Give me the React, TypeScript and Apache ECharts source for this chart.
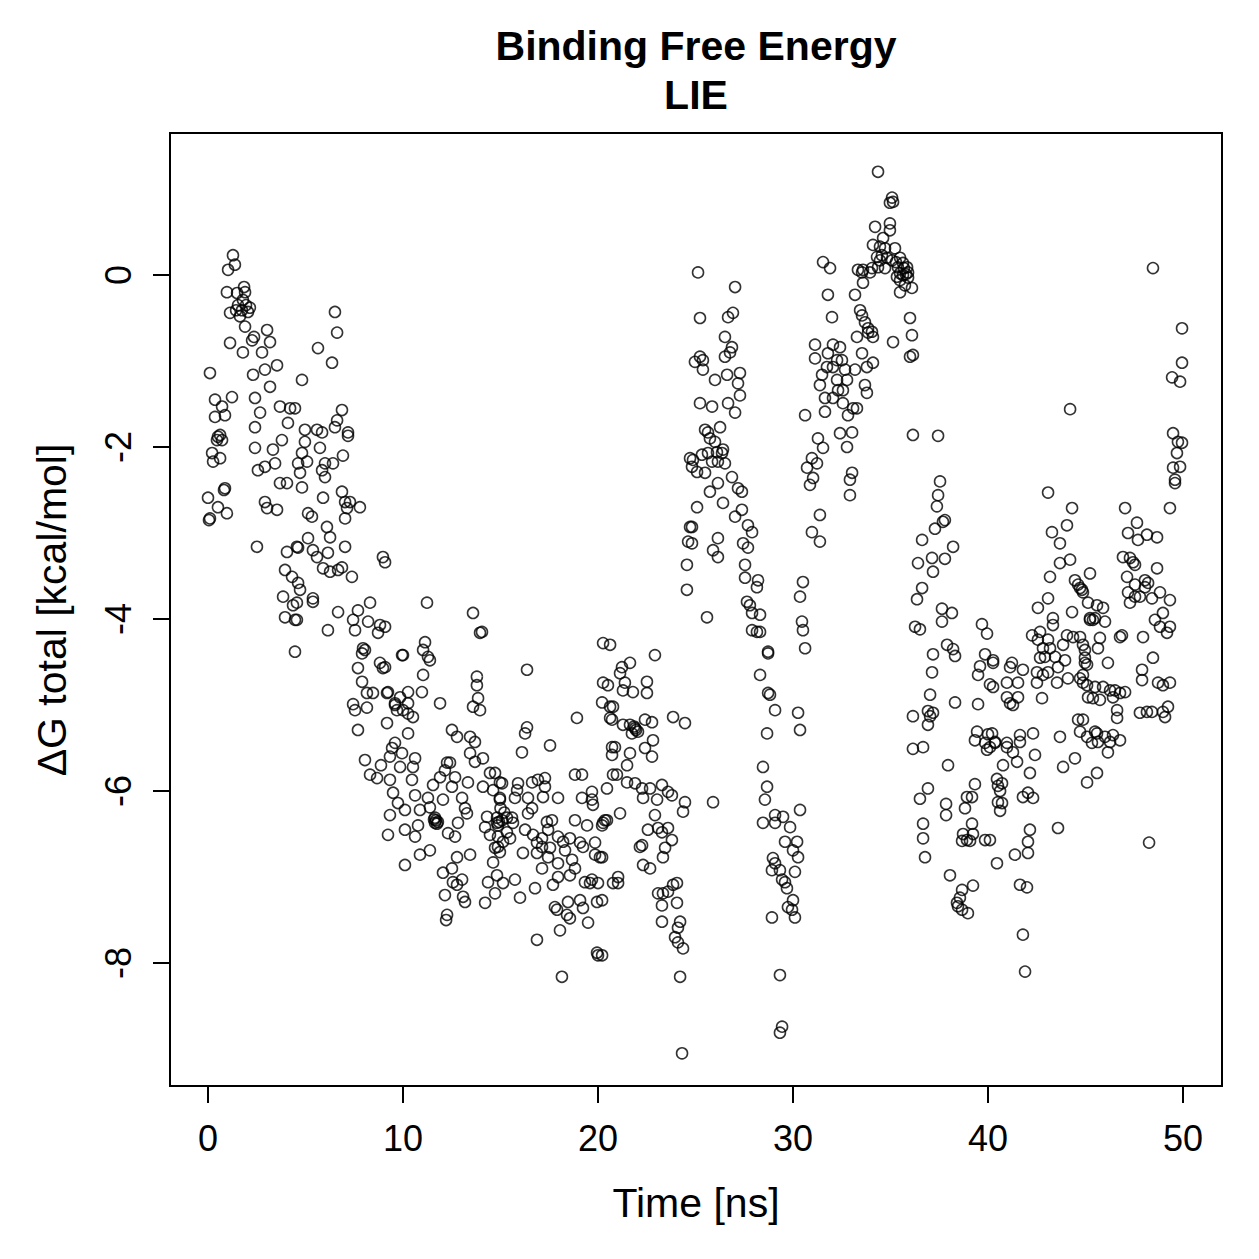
import { useEffect, useRef } from "react";
import * as echarts from "echarts";

const titleLines = ["Binding Free Energy", "LIE"];
const xAxisName = "Time [ns]";
const yAxisName = "ΔG total [kcal/mol]";
const xTicks = [0, 10, 20, 30, 40, 50];
const yTicks = [-8, -6, -4, -2, 0];

// [time (ns), ΔG (kcal/mol)], grouped by time window
const ns0to5 = [[1.28,0.23],[1.03,0.06],[1.38,0.12],[0.97,-0.20],[1.49,-0.21],[1.90,-0.20],[1.74,-0.41],[1.13,-0.44],[2.05,-0.43],[1.64,-0.48],[1.90,-0.60],[3.03,-0.64],[3.18,-0.78],[1.13,-0.79],[1.79,-0.90],[2.26,-0.76],[0.10,-1.14],[2.31,-1.16],[2.92,-1.10],[3.54,-1.05],[3.18,-1.30],[4.82,-1.22],[0.36,-1.45],[1.23,-1.42],[0.72,-1.53],[2.41,-1.43],[2.67,-1.60],[3.69,-1.53],[4.21,-1.55],[0.36,-1.65],[0.87,-1.63],[2.41,-1.77],[4.10,-1.72],[0.46,-1.92],[2.41,-2.01],[3.33,-2.03],[3.79,-1.92],[0.21,-2.07],[0.62,-2.13],[2.92,-2.23],[3.44,-2.19],[2.56,-2.27],[3.69,-2.42],[4.05,-2.42],[0.87,-2.48],[0.00,-2.59],[0.51,-2.70],[0.97,-2.77],[0.10,-2.83],[2.92,-2.64],[3.54,-2.73],[3.03,-2.71],[2.51,-3.16],[4.05,-3.22],[4.56,-3.16],[3.95,-3.43],[4.31,-3.51],[3.85,-3.74],[4.36,-3.84],[3.95,-3.98],[4.46,-4.01],[4.46,-4.38],[1.54,-0.35],[1.79,-0.29],[1.95,-0.35],[2.15,-0.38],[1.44,-0.41],[1.85,-0.14],[0.72,-1.92],[0.51,-1.88],[0.26,-2.17],[0.62,-1.86],[2.36,-0.72],[2.77,-0.90],[0.05,-2.85],[0.82,-2.50]];
const ns5to10 = [[6.51,-0.43],[6.62,-0.67],[5.64,-0.85],[6.36,-1.02],[4.46,-1.55],[6.87,-1.57],[6.62,-1.69],[6.51,-1.77],[7.18,-1.83],[7.18,-1.87],[4.97,-1.80],[5.59,-1.80],[5.85,-1.83],[4.97,-1.94],[5.74,-2.01],[4.82,-2.07],[5.08,-2.17],[4.62,-2.19],[6.00,-2.19],[6.41,-2.19],[6.92,-2.10],[5.85,-2.27],[6.00,-2.35],[4.72,-2.30],[4.82,-2.47],[6.87,-2.52],[7.03,-2.64],[7.28,-2.64],[7.13,-2.71],[7.79,-2.70],[7.03,-2.83],[5.90,-2.59],[5.13,-2.77],[5.33,-2.81],[6.10,-2.93],[6.26,-3.05],[5.13,-3.06],[4.62,-3.17],[5.38,-3.20],[5.59,-3.28],[6.15,-3.23],[7.03,-3.16],[8.97,-3.28],[5.90,-3.41],[6.26,-3.45],[6.67,-3.43],[6.87,-3.40],[7.38,-3.51],[4.62,-3.58],[4.72,-3.66],[5.38,-3.76],[5.38,-3.80],[4.56,-3.81],[4.56,-4.01],[6.67,-3.92],[7.69,-3.90],[8.31,-3.81],[7.44,-4.01],[8.21,-4.03],[8.82,-4.07],[8.72,-4.16],[7.54,-4.13],[6.15,-4.13],[7.95,-4.34],[8.05,-4.36],[7.90,-4.40],[8.82,-4.51],[8.97,-4.57],[7.69,-4.57],[9.95,-4.42],[7.90,-4.73],[8.15,-4.86],[8.46,-4.86],[9.18,-4.86],[9.85,-4.91],[7.44,-4.99],[7.54,-5.06],[8.15,-5.03],[9.59,-5.00],[10.00,-5.06],[7.69,-5.29],[8.05,-5.64],[8.31,-5.81],[8.67,-5.85],[8.87,-5.70]];
const ns10to15 = [[9.08,-3.34],[11.23,-3.81],[13.59,-3.93],[14.05,-4.15],[13.95,-4.16],[9.08,-4.09],[11.13,-4.27],[11.03,-4.36],[11.28,-4.44],[11.38,-4.48],[10.00,-4.42],[9.08,-4.56],[11.03,-4.65],[13.79,-4.67],[13.79,-4.77],[9.23,-4.85],[10.26,-4.85],[10.97,-4.85],[9.59,-4.98],[10.26,-4.98],[9.69,-5.06],[10.26,-5.10],[10.51,-5.14],[11.90,-4.98],[13.85,-4.92],[13.59,-5.02],[13.95,-5.06],[9.18,-5.21],[10.26,-5.33],[12.51,-5.29],[12.77,-5.37],[13.44,-5.37],[13.69,-5.43],[9.59,-5.44],[9.44,-5.50],[9.95,-5.56],[9.33,-5.60],[9.85,-5.72],[10.62,-5.62],[10.51,-5.72],[13.44,-5.56],[13.69,-5.66],[14.10,-5.62],[12.26,-5.67],[12.41,-5.67],[12.15,-5.76],[11.90,-5.84],[12.67,-5.84],[11.54,-5.93],[12.51,-5.95],[13.33,-5.90],[9.33,-5.87],[10.46,-5.87],[14.10,-5.95],[14.46,-5.79],[14.62,-5.99],[14.97,-5.90],[14.97,-6.10],[9.49,-6.02],[9.74,-6.14],[10.62,-6.05],[11.28,-6.08],[12.05,-6.10],[13.03,-6.08],[13.18,-6.20],[13.28,-6.26],[9.33,-6.28],[10.10,-6.22],[10.87,-6.22],[11.38,-6.19],[11.64,-6.31],[11.64,-6.37],[11.79,-6.36],[10.77,-6.40],[12.82,-6.37],[14.31,-6.30],[14.21,-6.42],[14.82,-6.31],[14.87,-6.53],[9.23,-6.51],[10.10,-6.45],[10.62,-6.53],[12.31,-6.49],[12.67,-6.53],[14.46,-6.51],[14.72,-6.66],[14.97,-6.71],[10.87,-6.74],[11.38,-6.69],[12.77,-6.77],[13.44,-6.74],[10.10,-6.86],[12.05,-6.95],[12.51,-6.90],[14.62,-6.83],[12.56,-7.06],[13.03,-7.03],[12.77,-7.09],[12.15,-7.21],[13.08,-7.23],[13.18,-7.29],[14.36,-7.06],[14.82,-6.98],[14.72,-7.19],[14.21,-7.30],[12.26,-7.44],[12.21,-7.50],[11.59,-6.33],[11.69,-6.34],[11.74,-6.38],[14.92,-6.36],[14.87,-6.40]];
const ns15to21 = [[20.26,-4.28],[20.62,-4.30],[16.36,-4.59],[20.26,-4.74],[20.51,-4.77],[20.21,-4.97],[20.62,-5.02],[20.72,-5.17],[18.92,-5.15],[16.36,-5.26],[16.26,-5.33],[16.10,-5.55],[17.54,-5.47],[20.72,-5.49],[20.72,-5.58],[18.82,-5.81],[19.18,-5.81],[20.46,-5.97],[20.77,-5.81],[14.72,-5.79],[15.08,-5.91],[15.90,-5.91],[16.62,-5.90],[16.92,-5.87],[17.28,-5.85],[17.28,-5.95],[15.85,-5.99],[14.97,-6.08],[15.74,-6.08],[16.41,-6.08],[17.18,-6.07],[17.95,-6.08],[19.18,-6.08],[19.69,-6.01],[19.69,-6.10],[19.74,-6.16],[16.62,-6.20],[16.41,-6.26],[15.08,-6.34],[15.33,-6.31],[15.59,-6.31],[15.64,-6.37],[14.82,-6.37],[17.38,-6.36],[17.64,-6.34],[18.82,-6.34],[19.44,-6.40],[20.21,-6.40],[20.36,-6.34],[14.87,-6.65],[15.13,-6.59],[15.49,-6.55],[15.33,-6.48],[16.26,-6.45],[16.67,-6.51],[16.87,-6.60],[17.13,-6.55],[17.44,-6.45],[17.13,-6.65],[17.54,-6.66],[17.95,-6.53],[18.21,-6.59],[18.56,-6.55],[18.31,-6.69],[19.08,-6.60],[19.23,-6.65],[19.85,-6.60],[16.15,-6.72],[16.87,-6.72],[17.44,-6.77],[17.95,-6.84],[18.67,-6.80],[18.82,-6.90],[18.56,-6.98],[19.85,-6.74],[20.10,-6.77],[17.13,-6.90],[15.13,-7.07],[15.74,-7.03],[16.77,-7.13],[17.69,-7.09],[17.95,-7.00],[19.33,-7.06],[19.59,-7.07],[20.00,-7.07],[19.69,-7.03],[20.77,-7.07],[16.00,-7.24],[17.79,-7.35],[17.90,-7.38],[18.46,-7.29],[19.08,-7.27],[19.23,-7.36],[19.95,-7.29],[18.41,-7.44],[18.56,-7.48],[18.05,-7.62],[19.49,-7.53],[16.87,-7.73],[19.95,-7.88],[20.00,-7.91],[18.15,-8.16],[15.00,-6.20],[15.20,-6.25]];
const ns20to26 = [[22.92,-4.42],[21.64,-4.51],[21.23,-4.56],[21.13,-4.63],[21.38,-4.74],[21.28,-4.83],[21.79,-4.85],[22.51,-4.73],[22.51,-4.86],[20.77,-5.02],[20.62,-5.15],[21.28,-5.23],[21.64,-5.23],[21.90,-5.27],[22.05,-5.31],[21.74,-5.33],[22.41,-5.17],[22.77,-5.20],[23.85,-5.14],[24.46,-5.21],[20.87,-5.49],[21.64,-5.56],[22.82,-5.41],[22.41,-5.50],[22.77,-5.60],[21.49,-5.70],[20.97,-5.81],[21.49,-5.90],[21.90,-5.91],[22.26,-5.97],[22.31,-6.08],[22.67,-5.97],[23.03,-6.10],[23.28,-5.93],[23.59,-6.01],[23.79,-6.05],[24.46,-6.13],[24.36,-6.24],[21.13,-6.26],[20.26,-6.37],[20.46,-6.34],[22.92,-6.28],[22.56,-6.45],[23.08,-6.43],[23.28,-6.48],[23.59,-6.43],[23.79,-6.57],[23.44,-6.66],[23.33,-6.77],[22.15,-6.65],[22.26,-6.63],[22.31,-6.86],[22.67,-6.90],[20.21,-6.77],[21.03,-7.00],[21.03,-7.07],[20.21,-7.27],[23.08,-7.19],[23.33,-7.19],[23.59,-7.17],[23.85,-7.09],[24.05,-7.07],[23.28,-7.33],[24.05,-7.30],[23.28,-7.52],[24.21,-7.52],[24.10,-7.59],[23.95,-7.70],[24.10,-7.76],[24.36,-7.83],[20.21,-7.91],[24.21,-8.16],[24.31,-9.05],[25.90,-6.13],[21.85,-5.25],[21.95,-5.29]];
const ns24to29 = [[25.13,0.03],[27.03,-0.14],[25.23,-0.50],[26.67,-0.49],[26.92,-0.44],[26.51,-0.72],[26.87,-0.84],[26.77,-0.90],[26.51,-0.95],[25.23,-0.95],[24.97,-1.01],[25.38,-0.99],[25.38,-1.10],[26.00,-1.22],[26.62,-1.16],[27.28,-1.14],[27.18,-1.26],[27.28,-1.40],[25.23,-1.49],[25.85,-1.53],[26.67,-1.49],[27.03,-1.60],[25.64,-1.83],[25.49,-1.80],[26.26,-1.77],[25.74,-1.90],[26.00,-1.94],[26.10,-2.06],[26.41,-2.03],[26.36,-2.07],[24.72,-2.13],[24.87,-2.15],[25.33,-2.09],[25.64,-2.07],[25.85,-2.17],[26.15,-2.17],[26.51,-2.19],[24.82,-2.23],[25.08,-2.29],[25.49,-2.30],[26.87,-2.35],[26.15,-2.42],[27.18,-2.48],[27.38,-2.52],[25.74,-2.52],[26.41,-2.65],[27.03,-2.81],[27.38,-2.73],[25.08,-2.70],[24.72,-2.93],[24.82,-2.93],[24.62,-3.10],[24.82,-3.12],[26.15,-3.06],[25.90,-3.20],[26.15,-3.28],[27.69,-2.91],[27.90,-2.99],[27.44,-3.12],[27.69,-3.17],[24.56,-3.37],[27.54,-3.37],[27.54,-3.52],[28.21,-3.55],[28.15,-3.63],[24.56,-3.66],[27.64,-3.80],[27.79,-3.84],[27.90,-3.93],[28.31,-3.95],[25.59,-3.98],[27.90,-4.13],[28.15,-4.15],[28.72,-4.38]];
const ns28to31 = [[30.51,-3.57],[30.36,-3.74],[30.46,-4.03],[30.51,-4.13],[30.62,-4.34],[28.72,-4.40],[28.31,-4.15],[28.31,-4.65],[28.72,-4.86],[28.82,-4.88],[29.08,-5.06],[30.26,-5.09],[30.36,-5.29],[28.67,-5.33],[28.46,-5.72],[28.67,-5.95],[28.56,-6.10],[28.46,-6.37],[29.08,-6.28],[29.08,-6.37],[29.49,-6.30],[29.85,-6.42],[30.36,-6.22],[29.59,-6.59],[30.21,-6.59],[30.00,-6.69],[30.26,-6.77],[28.97,-6.78],[29.08,-6.84],[28.92,-6.92],[29.33,-6.92],[29.44,-7.03],[29.59,-7.06],[29.69,-7.13],[30.10,-6.94],[30.00,-7.27],[29.74,-7.35],[29.95,-7.38],[30.10,-7.47],[28.92,-7.47],[29.33,-8.14],[29.33,-8.81],[29.44,-8.74]];
const ns30to36 = [[34.36,1.20],[35.08,0.90],[34.97,0.84],[35.13,0.85],[34.21,0.56],[34.97,0.60],[34.97,0.52],[34.62,0.43],[34.10,0.35],[34.46,0.33],[34.72,0.31],[35.23,0.31],[34.31,0.21],[34.56,0.23],[34.82,0.20],[35.08,0.17],[35.49,0.20],[35.64,0.14],[35.85,0.09],[34.36,0.09],[34.05,0.08],[34.72,0.08],[35.38,0.09],[35.49,0.02],[35.64,0.00],[35.90,0.03],[35.90,-0.03],[35.49,-0.06],[35.33,-0.02],[35.74,-0.12],[36.10,-0.15],[35.49,-0.20],[33.59,0.06],[33.33,0.06],[33.54,0.03],[33.59,-0.09],[31.54,0.15],[31.90,0.08],[31.79,-0.23],[33.18,-0.23],[32.00,-0.49],[33.44,-0.41],[33.54,-0.47],[33.69,-0.55],[33.85,-0.62],[34.05,-0.66],[34.10,-0.72],[33.28,-0.72],[33.85,-0.67],[35.13,-0.78],[36.00,-0.50],[36.10,-0.70],[36.00,-0.95],[36.15,-0.93],[31.13,-0.81],[31.13,-0.97],[32.05,-0.81],[32.41,-0.84],[31.79,-0.91],[32.26,-0.99],[32.51,-0.99],[31.74,-1.07],[32.05,-1.07],[32.67,-1.10],[33.18,-1.10],[33.54,-0.91],[33.79,-1.07],[34.10,-1.02],[31.49,-1.16],[31.38,-1.28],[32.26,-1.22],[32.77,-1.22],[32.31,-1.34],[32.56,-1.34],[33.69,-1.28],[33.79,-1.37],[31.64,-1.43],[32.05,-1.43],[32.56,-1.49],[33.08,-1.55],[33.28,-1.55],[32.82,-1.63],[31.64,-1.59],[30.62,-1.63],[32.41,-1.84],[33.03,-1.83],[32.77,-2.00],[36.15,-1.86],[31.28,-1.90],[31.54,-2.01],[30.97,-2.13],[31.23,-2.19],[30.72,-2.24],[31.03,-2.36],[30.87,-2.44],[33.03,-2.30],[32.92,-2.38],[32.92,-2.56],[31.38,-2.79],[30.97,-2.99],[31.38,-3.10],[35.69,0.08],[35.79,0.01],[35.28,0.15],[34.46,0.17],[33.95,0.03]];
const ns36to41 = [[37.44,-1.87],[37.54,-2.40],[37.44,-2.56],[37.38,-2.69],[37.69,-2.87],[37.79,-2.85],[37.28,-2.95],[36.62,-3.08],[38.21,-3.16],[36.41,-3.35],[37.13,-3.29],[37.79,-3.30],[37.18,-3.45],[36.62,-3.64],[36.36,-3.77],[37.64,-3.88],[38.15,-3.93],[37.64,-4.03],[36.26,-4.09],[36.51,-4.12],[39.69,-4.06],[39.95,-4.17],[37.90,-4.30],[38.21,-4.35],[38.31,-4.43],[37.18,-4.41],[39.85,-4.41],[40.26,-4.51],[39.59,-4.55],[39.49,-4.65],[37.13,-4.62],[40.10,-4.76],[37.03,-4.88],[38.31,-4.97],[39.49,-4.99],[36.15,-5.13],[36.92,-5.07],[37.03,-5.13],[37.18,-5.09],[36.92,-5.23],[36.15,-5.51],[36.67,-5.49],[39.44,-5.31],[39.33,-5.41],[40.00,-5.34],[39.85,-5.44],[40.36,-5.44],[40.10,-5.49],[39.95,-5.52],[40.97,-5.49],[37.95,-5.70],[40.77,-5.70],[36.92,-5.97],[36.51,-6.09],[37.85,-6.15],[37.85,-6.28],[38.82,-6.20],[39.18,-6.07],[38.92,-6.07],[39.33,-5.92],[40.46,-5.86],[40.51,-5.94],[40.72,-5.91],[40.62,-6.00],[40.51,-6.13],[40.62,-6.23],[36.67,-6.38],[36.67,-6.55],[36.77,-6.77],[39.18,-6.38],[38.72,-6.50],[39.23,-6.50],[39.85,-6.57],[38.67,-6.58],[39.08,-6.58],[38.92,-6.57],[40.46,-6.84],[38.05,-6.98],[39.23,-7.10],[38.67,-7.15],[38.56,-7.24],[38.41,-7.30],[38.67,-7.38],[38.97,-7.42],[38.46,-7.34]];
const ns40to46 = [[43.69,-3.35],[44.21,-3.31],[43.18,-3.51],[45.23,-3.47],[44.46,-3.55],[44.62,-3.60],[44.82,-3.66],[42.56,-3.87],[43.08,-3.76],[44.31,-3.92],[45.13,-3.81],[45.59,-3.84],[45.23,-4.01],[45.38,-4.01],[43.33,-3.99],[43.33,-4.07],[42.26,-4.19],[42.67,-4.15],[42.56,-4.24],[43.08,-4.24],[44.05,-4.19],[44.36,-4.21],[43.85,-4.30],[44.87,-4.30],[45.64,-4.34],[42.82,-4.34],[43.18,-4.34],[42.67,-4.45],[42.92,-4.44],[43.44,-4.44],[43.95,-4.48],[44.97,-4.45],[43.59,-4.56],[45.08,-4.53],[41.23,-4.51],[41.13,-4.56],[41.79,-4.59],[42.51,-4.62],[42.82,-4.65],[43.08,-4.62],[44.10,-4.69],[44.72,-4.69],[44.87,-4.74],[43.54,-4.74],[42.51,-4.74],[40.97,-4.74],[41.54,-4.74],[40.26,-4.48],[40.26,-4.79],[45.13,-4.91],[45.38,-4.92],[45.74,-4.94],[42.77,-4.92],[40.97,-4.91],[41.54,-4.91],[41.13,-4.98],[41.28,-5.00],[44.62,-5.17],[44.72,-5.31],[45.59,-5.33],[45.33,-5.44],[45.64,-5.43],[40.21,-5.33],[40.36,-5.43],[40.97,-5.44],[41.28,-5.55],[41.64,-5.43],[41.64,-5.35],[42.31,-5.33],[42.41,-5.58],[41.49,-5.66],[43.69,-5.37],[43.85,-5.72],[44.46,-5.62],[42.15,-5.79],[45.08,-5.90],[45.59,-5.79],[40.72,-6.14],[41.79,-6.07],[42.05,-6.02],[42.31,-6.08],[40.10,-6.57],[41.38,-6.74],[42.05,-6.72],[42.05,-6.59],[42.15,-6.45],[43.59,-6.43],[41.64,-7.09],[42.00,-7.12],[41.79,-7.67],[41.90,-8.10],[44.21,-1.56],[43.08,-2.53],[44.31,-2.71],[43.28,-2.99],[43.69,-3.12],[44.05,-2.91]];
const ns45to50 = [[48.46,0.08],[49.95,-0.62],[49.95,-1.02],[49.44,-1.19],[49.85,-1.24],[49.49,-1.84],[49.74,-1.94],[49.95,-1.95],[49.69,-2.07],[49.49,-2.24],[49.85,-2.23],[49.59,-2.38],[49.59,-2.42],[49.33,-2.71],[47.03,-2.71],[47.64,-2.88],[47.18,-3.00],[47.69,-3.08],[48.15,-3.02],[48.67,-3.05],[46.92,-3.28],[47.28,-3.29],[47.44,-3.34],[47.54,-3.37],[48.67,-3.41],[47.13,-3.51],[48.05,-3.55],[48.21,-3.58],[48.05,-3.63],[47.54,-3.60],[44.72,-3.64],[44.87,-3.69],[47.18,-3.69],[47.54,-3.74],[47.79,-3.74],[48.41,-3.76],[48.82,-3.69],[49.33,-3.78],[47.28,-3.81],[45.90,-3.87],[45.23,-3.99],[45.49,-3.99],[46.00,-4.03],[48.97,-3.93],[48.56,-4.01],[48.82,-4.09],[49.33,-4.09],[49.18,-4.16],[47.95,-4.21],[46.87,-4.19],[46.77,-4.21],[45.74,-4.22],[44.72,-4.21],[44.97,-4.36],[44.97,-4.51],[46.15,-4.51],[48.46,-4.45],[47.90,-4.59],[47.90,-4.71],[48.72,-4.74],[48.97,-4.77],[49.33,-4.74],[44.87,-4.65],[45.08,-4.77],[45.49,-4.79],[45.90,-4.79],[46.26,-4.83],[46.77,-4.86],[47.03,-4.85],[46.51,-4.83],[46.41,-4.91],[47.79,-5.09],[48.15,-5.08],[48.41,-5.08],[48.97,-5.08],[49.23,-5.02],[49.08,-5.14],[44.87,-5.17],[46.62,-5.06],[46.62,-5.15],[45.49,-5.31],[46.00,-5.37],[46.41,-5.35],[46.77,-5.41],[46.26,-5.43],[45.08,-5.37],[48.26,-6.60],[46.15,-5.55]];

const FONT = "'Liberation Sans', Arial, Helvetica, sans-serif";

export default function App() {
  const ref = useRef<HTMLDivElement>(null);
  useEffect(() => {
    if (!ref.current) return;
    const chart = echarts.init(ref.current, null, { renderer: "svg" });
    const points = [
      ...ns0to5, ...ns5to10, ...ns10to15, ...ns15to21, ...ns20to26,
      ...ns24to29, ...ns28to31, ...ns30to36, ...ns36to41, ...ns40to46, ...ns45to50,
    ];
    chart.setOption({
      animation: false,
      backgroundColor: "#ffffff",
      textStyle: { fontFamily: FONT },
      grid: {
        left: 170, top: 133, width: 1052, height: 953,
        show: true, borderColor: "#000", borderWidth: 2, backgroundColor: "transparent",
        containLabel: false,
      },
      xAxis: {
        type: "value",
        min: -1.949,
        max: 52.0,
        axisLine: { show: false, onZero: false },
        splitLine: { show: false },
        axisTick: {
          show: true, customValues: xTicks, length: 17, inside: false,
          lineStyle: { color: "#000", width: 2 },
        },
        axisLabel: {
          customValues: xTicks, fontSize: 36, color: "#000", margin: 34, fontFamily: FONT,
        },
      },
      yAxis: {
        type: "value",
        min: -9.430,
        max: 1.651,
        axisLine: { show: false, onZero: false },
        splitLine: { show: false },
        axisTick: {
          show: true, customValues: yTicks, length: 17, inside: false,
          lineStyle: { color: "#000", width: 2 },
        },
        axisLabel: {
          customValues: yTicks, fontSize: 36, color: "#000", margin: 34, rotate: 90, fontFamily: FONT,
        },
      },
      graphic: [
        {
          type: "text", x: 696, y: 46,
          style: { text: titleLines[0], fontSize: 41, fontWeight: "bold", fontFamily: FONT, fill: "#000", align: "center", verticalAlign: "middle" },
        },
        {
          type: "text", x: 696, y: 95,
          style: { text: titleLines[1], fontSize: 41, fontWeight: "bold", fontFamily: FONT, fill: "#000", align: "center", verticalAlign: "middle" },
        },
        {
          type: "text", x: 696, y: 1203,
          style: { text: xAxisName, fontSize: 41, fontFamily: FONT, fill: "#000", align: "center", verticalAlign: "middle" },
        },
        {
          type: "text", x: 52, y: 610, rotation: Math.PI / 2,
          style: { text: yAxisName, fontSize: 41, fontFamily: FONT, fill: "#000", align: "center", verticalAlign: "middle" },
        },
      ],
      series: [
        {
          type: "scatter",
          data: points,
          symbol: "circle",
          symbolSize: 11,
          silent: true,
          progressive: 0,
          itemStyle: { color: "rgba(0,0,0,0)", borderColor: "#000", borderWidth: 1.6 },
          emphasis: { disabled: true },
        },
      ],
    });
    return () => chart.dispose();
  }, []);
  return (
    <div
      ref={ref}
      style={{ position: "fixed", left: 0, top: 0, width: 1259, height: 1259, background: "#fff" }}
    />
  );
}
